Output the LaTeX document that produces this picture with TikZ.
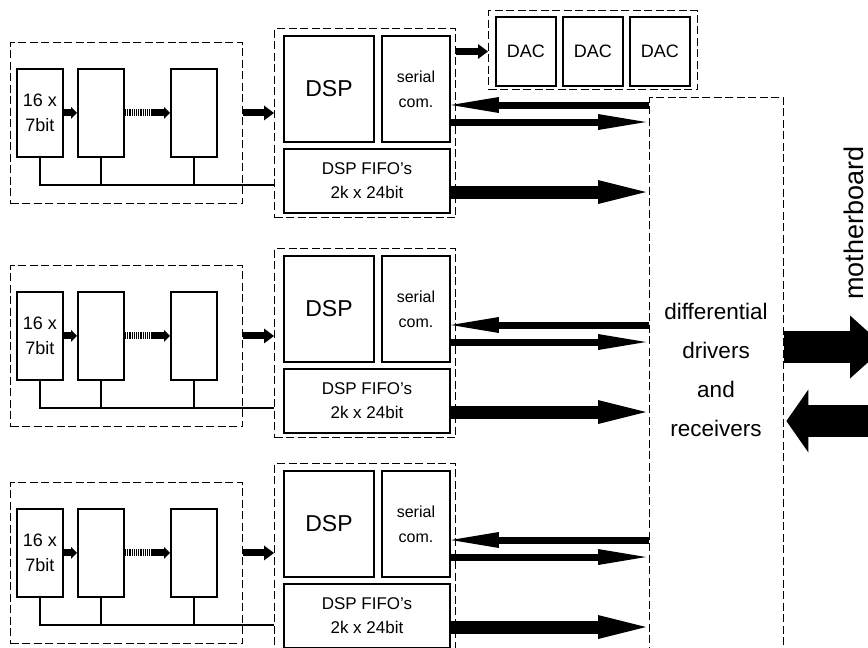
\documentclass[tikz,border=0pt]{standalone}
\usepackage{fontspec}
\setmainfont{Liberation Sans}
\usetikzlibrary{positioning, arrows.meta, calc}

\begin{document}
\begin{tikzpicture}[
    x=1pt, y=-1pt, % one unit = one pixel of the drawing
    % Styles
    blk/.style={ % solid block
        rectangle,
        draw,
        line width=1.9pt,
        inner sep=0pt,
        align=center,
        anchor=north west
    },
    grp/.style={ % dashed group frame
        rectangle,
        draw,
        line width=1.4pt,
        dash pattern=on 8pt off 3.5pt,
        inner sep=0pt,
        anchor=north west
    },
    reg/.style={ % shift register block
        blk,
        minimum width=46pt,
        minimum height=88pt,
        font={\fontsize{18}{25}\selectfont}
    },
    smlarr/.style={ % short arrow between registers
        line width=7pt,
        -{Triangle[length=6pt, width=12pt, line width=0pt]}
    },
    medarr/.style={ % arrow into a frame
        line width=7pt,
        -{Triangle[length=10pt, width=15pt, line width=0pt]}
    },
    serarr/.style={ % serial link arrows
        line width=7pt,
        -{Triangle[length=48pt, width=16pt, line width=0pt]}
    },
    fifoarr/.style={ % FIFO arrow
        line width=13pt,
        -{Triangle[length=48pt, width=24pt, line width=0pt]}
    },
    bigarr/.style={ % motherboard arrows
        line width=32pt,
        -{Triangle[length=#1, width=63pt, line width=0pt]}
    },
    bus/.style={ % control bus
        line width=1.4pt
    }
]
    \useasboundingbox (0,0) rectangle (868,648);
    \clip (0,0) rectangle (868,648);

    % DAC frame
    \node[grp, minimum width=209pt, minimum height=79pt] (dacg) at (488,10) {};
    \foreach \D/\X in {1/495, 2/562, 3/629} {
        \node[blk, minimum width=60pt, minimum height=69pt,
            font={\fontsize{18}{20}\selectfont}] (dac\D) at (\X,16) {DAC};
    }

    % Differential drivers and receivers
    \node[grp, minimum width=134pt, minimum height=563pt] (drv) at (649,97) {};
    \node[font={\fontsize{22.5}{39}\selectfont}, align=center] (drvtxt) at (716,370)
        {differential\\drivers\\and\\receivers};

    % Motherboard link
    \node[rotate=90, font={\fontsize{27}{30}\selectfont}] (mbtxt) at (854,223) {motherboard};
    \coordinate (mbo) at (885,347);
    \coordinate (mbi) at (880,421);
    \draw[bigarr=35pt] (drv.east |- mbo) -- (mbo);
    \draw[bigarr=22pt] (mbi) -- ([xshift=2pt]drv.east |- mbi);

    % Channels
    \foreach \G/\LY/\DY in {1/42/35, 2/265/255, 3/482/470} {
        % Shift registers
        \node[grp, minimum width=232pt, minimum height=161pt] (lg\G) at (10,\LY) {};
        \node[reg] (ra\G) at (16,\LY+26) {16 x\\7bit};
        \node[reg] (rb\G) at (77,\LY+26) {};
        \node[reg] (rc\G) at (170,\LY+26) {};
        \draw[smlarr] (ra\G) -- (rb\G);
        \draw[line width=7pt, dash pattern=on 1.2pt off 1pt] (rb\G.east) -- ++(30,0);
        \draw[smlarr] ([xshift=28pt]rb\G.east) -- (rc\G);

        % DSP frame
        \node[grp, minimum width=181pt, minimum height=189pt] (dg\G) at (274,\DY-7) {};
        \node[blk, minimum width=90pt, minimum height=106pt,
            font={\fontsize{23}{26}\selectfont}] (dsp\G) at (283,\DY) {DSP};
        \node[blk, minimum width=68pt, minimum height=106pt,
            font={\fontsize{16}{25}\selectfont}] (ser\G) at (381,\DY) {serial\\com.};
        \node[blk, minimum width=166pt, minimum height=64pt,
            font={\fontsize{17}{24}\selectfont}] (fifo\G) at (283,\DY+113) {DSP FIFO's\\2k x 24bit};

        % Registers to DSP
        \draw[medarr] (lg\G.east |- rc\G) -- (dg\G.west |- rc\G);

        % Control bus
        \draw[bus] (ra\G.south) -- ++(0,27) coordinate (bl\G) -- (bl\G -| dg\G.west);
        \draw[bus] (rb\G.south) -- (rb\G.south |- bl\G);
        \draw[bus] (rc\G.south) -- (rc\G.south |- bl\G);

        % Links to the drivers
        \coordinate (sl\G) at ([yshift=-70pt]ser\G.north east);
        \coordinate (sr\G) at ([yshift=-87pt]ser\G.north east);
        \coordinate (fa\G) at ([yshift=-44pt]fifo\G.north east);
        \draw[serarr] (drv.west |- sl\G) -- (sl\G);
        \draw[serarr] (sr\G) -- ([xshift=-3pt]drv.west |- sr\G);
        \draw[fifoarr] (fa\G) -- ([xshift=-3pt]drv.west |- fa\G);
    }

    % DSP to DACs
    \draw[medarr] (dg1.east |- dac1) -- (dacg.west |- dac1);
\end{tikzpicture}
\end{document}
